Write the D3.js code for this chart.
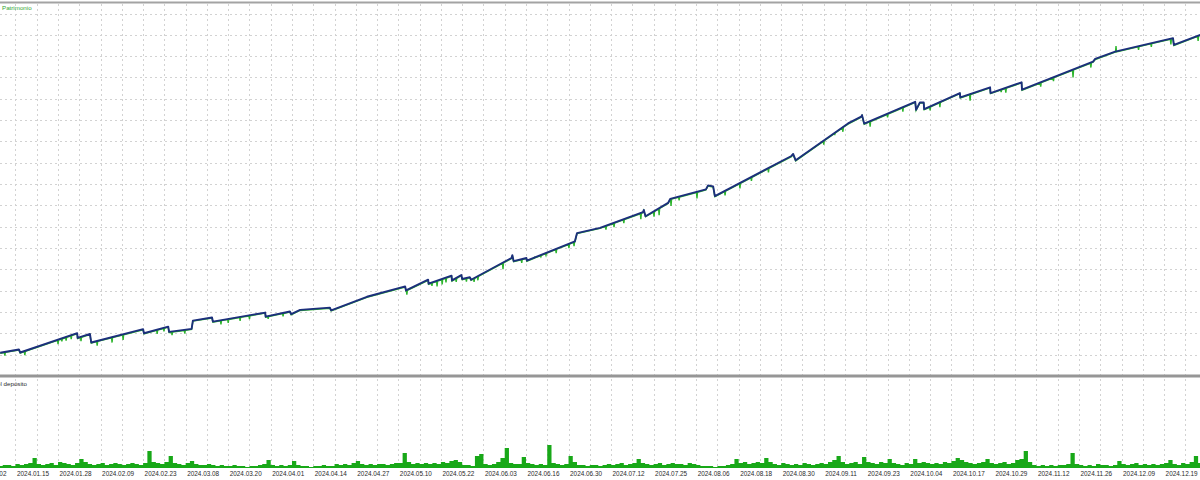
<!DOCTYPE html>
<html><head><meta charset="utf-8">
<script src="https://cdn.jsdelivr.net/npm/d3@7"></script>
<style>html,body{margin:0;padding:0;background:#fff;overflow:hidden}</style>
</head><body>
<svg id="c" width="1200" height="480"></svg>
<script>
// ---- data ----
const tickLabels = ["2024.01.02","2024.01.15","2024.01.28","2024.02.09","2024.02.23","2024.03.08","2024.03.20","2024.04.01","2024.04.14","2024.04.27","2024.05.10","2024.05.22","2024.06.03","2024.06.16","2024.06.30","2024.07.12","2024.07.25","2024.08.06","2024.08.18","2024.08.30","2024.09.11","2024.09.23","2024.10.04","2024.10.17","2024.10.29","2024.11.12","2024.11.26","2024.12.09","2024.12.19"];
const barsPerLabel = 100;

const balanceBars = [64,108,111,245,246,275,278,400,402,459,461,514,517,562,564,687,688,745,748,769,839,842,926,1016,1018,1070,1071,1125,1126,1148,1150,1168,1171,1266,1268,1271,1301,1302,1415,1420,1474,1575,1577,1581,1634,1639,1723,1728,1740,1744,1924,1928,1934,2057,2088,2090,2095,2179,2215,2217,2226,2235,2236,2320,2321,2391,2392,2465,2466,2633,2638,2685,2821,2823,2885];
const balanceValues = [10048,10124,10053,10505,10394,10488,10288,10599,10505,10660,10535,10606,10801,10872,10778,10989,10895,11013,10952,11053,11105,11041,11359,11601,11507,11759,11665,11853,11742,11869,11775,11818,11759,12269,12335,12194,12269,12206,12660,12853,12975,13342,13394,13248,13559,13653,13877,13971,13947,13719,14660,14707,14559,15422,15582,15618,15418,15775,15931,15742,15917,15912,15759,16135,16034,16270,16135,16387,16213,16872,16935,17107,17423,17265,17500];

// equity excursions away from balance (floating results)
const equityBars = [75,122,200,209,219,231,254,292,327,353,433,449,468,498,583,600,628,650,694,729,1020,1079,1091,1103,1112,1136,1160,1178,1187,1246,1290,1321,1335,1347,1371,1401,1413,1488,1507,1530,1570,1601,1613,1641,1660,1702,1768,1803,1830,1870,2000,2026,2045,2109,2150,2186,2250,2273,2344,2417,2428,2510,2540,2586,2628,2687,2740,2770,2816,2880];
const equityValues = [9994,10006,10265,10330,10347,10382,10335,10229,10300,10359,10500,10559,10476,10512,10724,10760,10806,10850,10853,10912,11420,11629,11618,11665,11712,11724,11730,11720,11760,12018,12170,12300,12312,12347,12394,12512,12559,12947,13006,13100,13194,13253,13288,13500,13630,13677,13747,13912,14090,14290,14940,15182,15241,15359,15580,15712,15740,15818,15971,16171,16159,16300,16430,16512,16747,17253,17160,17230,17289,17371];

// deposit load (%), one value every loadStep bars starting at loadStartBar
const loadStartBar = 60, loadStep = 10;
const loadValues = [
2,3,3,2,4,3,4,5,10,4,
3,4,5,3,6,5,4,3,5,9,
6,4,3,4,5,3,4,5,4,3,
4,5,4,3,5,17,6,5,4,6,
12,5,4,3,5,7,4,3,3,4,
3,2,3,2,2,3,2,2,1,2,
2,3,4,8,3,2,3,2,3,7,
3,2,2,1,2,2,3,2,2,4,
3,4,3,5,7,4,3,4,3,4,
4,3,4,5,5,15,6,4,5,4,
5,4,5,4,6,5,7,8,6,3,
3,2,12,14,4,3,4,6,10,20,
5,4,4,11,5,4,3,4,3,23,
5,4,3,4,12,6,3,3,2,3,
3,2,3,4,3,4,5,3,4,5,
9,5,4,3,4,5,3,4,5,4,
4,3,5,4,3,2,2,2,1,2,
2,3,4,9,5,6,4,5,6,5,
10,6,4,3,5,4,3,4,3,5,
4,3,4,5,4,6,8,12,6,4,
5,6,4,11,6,5,4,6,5,9,
5,4,3,5,4,9,5,6,5,4,
5,4,6,5,7,10,8,6,5,4,
5,6,9,5,4,5,6,4,5,8,
9,17,6,3,2,3,2,3,2,3,
3,4,15,4,3,2,3,2,4,3,
3,2,3,7,4,3,4,5,3,4,
3,4,3,4,5,8,4,3,5,4,
6,12,5];

const gridValues = d3.range(10000, 18001, 500);

// ---- drawing ----
const svg = d3.select("#c");
const x = d3.scaleLinear().domain([0, 2800]).range([-27.04, 1164.08]);
const y = d3.scaleLinear().domain([10000, 18000]).range([354.75, 13.5]);
const yLoad = d3.scaleLinear().domain([0, 90]).range([468, 378]);

const defs = svg.append("defs");
defs.append("clipPath").attr("id","cm").append("rect").attr("x",0).attr("y",4).attr("width",1200).attr("height",370);
defs.append("clipPath").attr("id","cs").append("rect").attr("x",0).attr("y",378).attr("width",1200).attr("height",91);

svg.append("rect").attr("width",1200).attr("height",480).attr("fill","#fff");

// vertical grid (both panels)
const vg = d3.range(0, 2901, barsPerLabel/2);
svg.append("g").selectAll("line").data(vg).join("line")
  .attr("x1", d => Math.round(x(d)) + 0.5).attr("x2", d => Math.round(x(d)) + 0.5)
  .attr("y1", 4).attr("y2", 468)
  .attr("stroke", "#d2d2d2").attr("stroke-dasharray", "2,3").attr("stroke-width", 1);

// horizontal grid (main panel)
svg.append("g").selectAll("line").data(gridValues).join("line")
  .attr("x1", 0).attr("x2", 1200)
  .attr("y1", d => Math.round(y(d)) + 0.5).attr("y2", d => Math.round(y(d)) + 0.5)
  .attr("stroke", "#d2d2d2").attr("stroke-dasharray", "2,3").attr("stroke-width", 1);

const balance = balanceBars.map((b, i) => ({b, v: balanceValues[i]}));
function balAt(b) {
  const i = Math.max(1, Math.min(balanceBars.length - 1, d3.bisectRight(balanceBars, b)));
  const b0 = balanceBars[i-1], b1 = balanceBars[i];
  const t = Math.max(0, Math.min(1, (b - b0) / (b1 - b0)));
  return balanceValues[i-1] + t * (balanceValues[i] - balanceValues[i-1]);
}
// equity = balance path with the excursions
let equity = balance.slice();
equityBars.forEach((b, i) => {
  equity.push({b: b - 1.2, v: balAt(b - 1.2)});
  equity.push({b: b, v: equityValues[i]});
  equity.push({b: b + 1.2, v: balAt(b + 1.2)});
});
equity.sort((a, c) => a.b - c.b);

const line = d3.line().x(d => x(d.b)).y(d => y(d.v));
const main = svg.append("g").attr("clip-path", "url(#cm)");
main.append("path").datum(equity).attr("d", line)
  .attr("fill", "none").attr("stroke", "#2db52d").attr("stroke-width", 1.4)
  .attr("transform", "translate(0,0.6)");
main.append("path").datum(balance).attr("d", line)
  .attr("fill", "none").attr("stroke", "#1c2f7c").attr("stroke-width", 1.9).attr("stroke-linejoin","round");

// deposit load histogram
const load = loadValues.map((v, i) => ({b: loadStartBar + i * loadStep, v}));
const area = d3.area().x(d => x(d.b)).y0(yLoad(0)).y1(d => yLoad(d.v)).curve(d3.curveStepAfter);
svg.append("g").attr("clip-path", "url(#cs)").append("path")
  .datum(load.concat([{b: loadStartBar + loadValues.length * loadStep, v: loadValues[loadValues.length - 1]}]))
  .attr("d", area).attr("fill", "#18a818");

// borders / separator
svg.append("rect").attr("x",0).attr("y",1.5).attr("width",1200).attr("height",2).attr("fill","#a3a3a3");
svg.append("rect").attr("x",0).attr("y",374.5).attr("width",1200).attr("height",3).attr("fill","#969696");

// date axis
const ax = d3.axisBottom(x)
  .tickValues(tickLabels.map((d, i) => i * barsPerLabel))
  .tickFormat((d, i) => tickLabels[i])
  .tickSize(0).tickPadding(0);
const axg = svg.append("g").attr("transform", "translate(0,470)").call(ax);
axg.select(".domain").remove();
axg.selectAll("text")
  .attr("text-anchor", "start").attr("dx", 1).attr("dy", 0).attr("y", 6)
  .attr("font-family", "'Liberation Sans', Arial, sans-serif").attr("font-size", 6.4).attr("fill", "#2a2a2a");

// panel titles
svg.append("text").attr("x", 2).attr("y", 10).text("Patrimonio")
  .attr("font-family", "'Liberation Sans', Arial, sans-serif").attr("font-size", 6.2).attr("fill", "#35a835");
svg.append("text").attr("x", 27).attr("y", 385.5).attr("text-anchor", "end").text("Carga del depósito")
  .attr("font-family", "'Liberation Sans', Arial, sans-serif").attr("font-size", 6.2).attr("fill", "#2a2a2a");
</script>
</body></html>
